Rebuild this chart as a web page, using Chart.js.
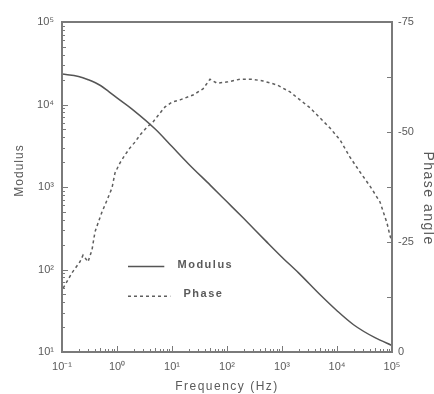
<!DOCTYPE html>
<html>
<head>
<meta charset="utf-8">
<script src="https://cdn.jsdelivr.net/npm/chart.js@4"></script>
<style>
  html, body { margin: 0; padding: 0; background: #fff; }
  #wrap { width: 434px; height: 394px; }
</style>
</head>
<body>
<div id="wrap"><canvas id="c" width="434" height="394"></canvas></div>
<script>
// ---- data ----
const modulusFreq = [0.1, 0.2, 0.3, 0.5, 0.7, 1, 2, 5, 10, 20, 50, 100, 200, 500, 1000, 2000, 5000, 10000, 20000, 50000, 100000];
const modulusValues = [23400, 21900, 19950, 17000, 14450, 12000, 8500, 5010, 3090, 1905, 1047, 661, 417, 224, 141, 91, 49, 31.6, 21.4, 14.8, 12];

const phaseFreq = [0.105, 0.152, 0.212, 0.241, 0.297, 0.351, 0.398, 0.452, 0.533, 0.658, 0.811, 0.92, 1.135, 1.40, 1.72, 2.12, 2.62, 3.51, 4.52, 6.05, 7.46, 10, 14.0, 24.1, 36.6, 49.1, 65.8, 104, 172, 285, 452, 811, 1400, 2120, 3230, 4910, 7460, 11350, 17200, 26200, 39800, 60500, 81100, 92000, 100000];
const phaseValues = [-14.5, -18.0, -20.5, -22.0, -20.5, -23.2, -27.3, -29.3, -31.8, -34.5, -37.3, -40.7, -43.0, -44.8, -46.4, -47.7, -49.3, -51.1, -52.3, -54.3, -55.7, -56.8, -57.3, -58.4, -59.8, -62.0, -61.1, -61.4, -62.0, -62.0, -61.6, -60.7, -59.1, -57.3, -55.5, -53.2, -50.9, -48.2, -44.3, -40.9, -37.7, -34.1, -29.3, -26.4, -25.0];

const seriesLabels = ['Modulus', 'Phase'];
const xTitle = 'Frequency (Hz)';
const yTitle = 'Modulus';
const y1Title = 'Phase angle';
const phaseTickLabels = {'-75': '-75', '-50': '-50', '-25': '-25', '0': '0'};

const SUP = {'-': '⁻', '0': '⁰', '1': '¹', '2': '²', '3': '³', '4': '⁴', '5': '⁵', '6': '⁶', '7': '⁷', '8': '⁸', '9': '⁹'};
function powLabel(v) {
  const e = Math.round(Math.log10(v));
  if (Math.abs(Math.log10(v) - e) > 1e-6) return '';
  return '10' + String(e).split('').map(c => SUP[c]).join('');
}

const GREY = '#5a5a5a';
const AXIS = '#7a7a7a';
const FONT = "'Liberation Sans', Arial, sans-serif";

const decorPlugin = {
  id: 'decor',
  afterDraw(chart) {
    const ctx = chart.ctx;
    const a = chart.chartArea;
    const xs = chart.scales.x, ys = chart.scales.y, y1 = chart.scales.y1;
    ctx.save();
    // frame
    ctx.strokeStyle = AXIS;
    ctx.lineWidth = 2;
    ctx.strokeRect(a.left, a.top, a.right - a.left, a.bottom - a.top);
    ctx.lineWidth = 1;
    // log ticks (inward)
    function logTicks(scale, horizontal) {
      const lo = Math.floor(Math.log10(scale.min)), hi = Math.ceil(Math.log10(scale.max));
      for (let d = lo; d <= hi; d++) {
        for (let m = 1; m <= 9; m++) {
          const v = m * Math.pow(10, d);
          if (v < scale.min * 0.999 || v > scale.max * 1.001) continue;
          const p = Math.round(scale.getPixelForValue(v)) + 0.5;
          const len = m === 1 ? 6 : (m === 5 ? 4 : 3);
          ctx.beginPath();
          if (horizontal) { ctx.moveTo(p, a.bottom); ctx.lineTo(p, a.bottom - len); }
          else { ctx.moveTo(a.left, p); ctx.lineTo(a.left + len, p); }
          ctx.stroke();
        }
      }
    }
    logTicks(xs, true);
    logTicks(ys, false);
    for (let v = y1.min; v <= y1.max + 1e-6; v += 12.5) {
      const p = Math.round(y1.getPixelForValue(v)) + 0.5;
      ctx.beginPath();
      ctx.moveTo(a.right, p); ctx.lineTo(a.right - 5, p);
      ctx.stroke();
    }
    // axis titles
    ctx.fillStyle = GREY;
    ctx.textAlign = 'center';
    ctx.textBaseline = 'middle';
    try { ctx.letterSpacing = '1.5px'; } catch (e) {}
    ctx.font = '12px ' + FONT;
    ctx.fillText(xTitle, (a.left + a.right) / 2, chart.height - 7);
    try { ctx.letterSpacing = '1px'; } catch (e) {}
    ctx.save();
    ctx.translate(20, a.top + (a.bottom - a.top) * 0.45);
    ctx.rotate(-Math.PI / 2);
    ctx.fillText(yTitle, 0, 0);
    ctx.restore();
    ctx.save();
    try { ctx.letterSpacing = '1.5px'; } catch (e) {}
    ctx.font = '14px ' + FONT;
    ctx.translate(chart.width - 6, a.top + (a.bottom - a.top) * 0.535);
    ctx.rotate(Math.PI / 2);
    ctx.fillText(y1Title, 0, 0);
    ctx.restore();
    // legend inside plot
    const lx0 = a.left + (a.right - a.left) * 0.20;
    const lx1 = a.left + (a.right - a.left) * 0.31;
    const tx = a.left + (a.right - a.left) * 0.35;
    const rows = [a.top + (a.bottom - a.top) * 0.735, a.top + (a.bottom - a.top) * 0.825];
    chart.data.datasets.forEach((ds, i) => {
      ctx.strokeStyle = ds.borderColor;
      ctx.lineWidth = 1.5;
      ctx.setLineDash(ds.borderDash || []);
      ctx.beginPath();
      ctx.moveTo(lx0, rows[i] + 2);
      ctx.lineTo(lx1 + (i ? 6 : 0), rows[i] + 2);
      ctx.stroke();
      ctx.setLineDash([]);
      ctx.fillStyle = GREY;
      ctx.textAlign = 'left';
      try { ctx.letterSpacing = '1.5px'; } catch (e) {}
      ctx.font = 'bold 11px ' + FONT;
      ctx.fillText(ds.label, tx + (i ? 6 : 0), rows[i]);
    });
    ctx.restore();
  }
};

new Chart(document.getElementById('c'), {
  type: 'line',
  data: {
    datasets: [
      {
        label: seriesLabels[0],
        data: modulusFreq.map((f, i) => ({x: f, y: modulusValues[i]})),
        yAxisID: 'y',
        borderColor: '#555555',
        borderWidth: 1.5,
        pointRadius: 0,
        cubicInterpolationMode: 'monotone',
        fill: false
      },
      {
        label: seriesLabels[1],
        data: phaseFreq.map((f, i) => ({x: f, y: phaseValues[i]})),
        yAxisID: 'y1',
        borderColor: '#5e5e5e',
        borderWidth: 1.5,
        borderDash: [3, 3],
        pointRadius: 0,
        tension: 0,
        fill: false
      }
    ]
  },
  options: {
    responsive: false,
    animation: false,
    events: [],
    layout: { padding: { top: 22, left: 0, right: 0, bottom: 0 } },
    plugins: { legend: { display: false }, tooltip: { enabled: false } },
    scales: {
      x: {
        type: 'logarithmic',
        min: 0.1, max: 100000,
        afterFit(s) { s.height = 42; },
        grid: { display: false, drawTicks: false },
        border: { display: false },
        ticks: {
          autoSkip: false, maxRotation: 0, padding: 8,
          color: GREY, font: { family: FONT, size: 11 },
          callback: (v) => powLabel(v)
        }
      },
      y: {
        type: 'logarithmic',
        position: 'left',
        min: 10, max: 100000,
        afterFit(s) { s.width = 62; },
        grid: { display: false, drawTicks: false },
        border: { display: false },
        ticks: {
          autoSkip: false, padding: 8,
          color: GREY, font: { family: FONT, size: 11 },
          callback: (v) => powLabel(v)
        }
      },
      y1: {
        type: 'linear',
        position: 'right',
        min: -75, max: 0,
        reverse: true,
        afterFit(s) { s.width = 42; },
        grid: { display: false, drawTicks: false },
        border: { display: false },
        ticks: {
          stepSize: 25, padding: 6,
          color: GREY, font: { family: FONT, size: 11 },
          callback: (v) => phaseTickLabels[String(v)] ?? ''
        }
      }
    }
  },
  plugins: [decorPlugin]
});
</script>
</body>
</html>
